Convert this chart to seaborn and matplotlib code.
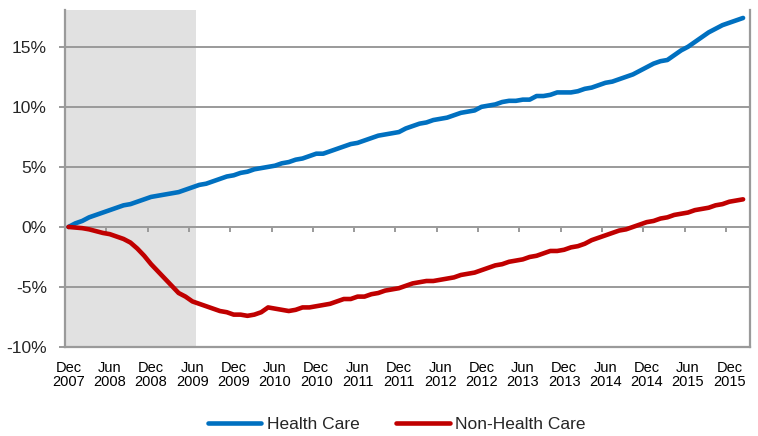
import numpy as np
import pandas as pd
import matplotlib.pyplot as plt
import seaborn as sns
from matplotlib.lines import Line2D

# =========================
# DATA (% change since Dec 2007, monthly Dec 2007 - Feb 2016)
# =========================
health_care = [
    0.0, 0.3, 0.5, 0.8, 1.0, 1.2,
    1.4, 1.6, 1.8, 1.9, 2.1, 2.3,
    2.5, 2.6, 2.7, 2.8, 2.9, 3.1,
    3.3, 3.5, 3.6, 3.8, 4.0, 4.2,
    4.3, 4.5, 4.6, 4.8, 4.9, 5.0,
    5.1, 5.3, 5.4, 5.6, 5.7, 5.9,
    6.1, 6.1, 6.3, 6.5, 6.7, 6.9,
    7.0, 7.2, 7.4, 7.6, 7.7, 7.8,
    7.9, 8.2, 8.4, 8.6, 8.7, 8.9,
    9.0, 9.1, 9.3, 9.5, 9.6, 9.7,
    10.0, 10.1, 10.2, 10.4, 10.5, 10.5,
    10.6, 10.6, 10.9, 10.9, 11.0, 11.2,
    11.2, 11.2, 11.3, 11.5, 11.6, 11.8,
    12.0, 12.1, 12.3, 12.5, 12.7, 13.0,
    13.3, 13.6, 13.8, 13.9, 14.3, 14.7,
    15.0, 15.4, 15.8, 16.2, 16.5, 16.8,
    17.0, 17.2, 17.4,
]
non_health_care = [
    0.0, -0.05, -0.1, -0.2, -0.35, -0.5,
    -0.6, -0.8, -1.0, -1.3, -1.8, -2.4,
    -3.1, -3.7, -4.3, -4.9, -5.5, -5.8,
    -6.2, -6.4, -6.6, -6.8, -7.0, -7.1,
    -7.3, -7.3, -7.4, -7.3, -7.1, -6.7,
    -6.8, -6.9, -7.0, -6.9, -6.7, -6.7,
    -6.6, -6.5, -6.4, -6.2, -6.0, -6.0,
    -5.8, -5.8, -5.6, -5.5, -5.3, -5.2,
    -5.1, -4.9, -4.7, -4.6, -4.5, -4.5,
    -4.4, -4.3, -4.2, -4.0, -3.9, -3.8,
    -3.6, -3.4, -3.2, -3.1, -2.9, -2.8,
    -2.7, -2.5, -2.4, -2.2, -2.0, -2.0,
    -1.9, -1.7, -1.6, -1.4, -1.1, -0.9,
    -0.7, -0.5, -0.3, -0.2, 0.0, 0.2,
    0.4, 0.5, 0.7, 0.8, 1.0, 1.1,
    1.2, 1.4, 1.5, 1.6, 1.8, 1.9,
    2.1, 2.2, 2.3,
]
series_names = ["Health Care", "Non-Health Care"]
series_colors = ["#0070C0", "#C00000"]
tick_labels = [
    "Dec\n2007", "Jun\n2008", "Dec\n2008", "Jun\n2009", "Dec\n2009", "Jun\n2010",
    "Dec\n2010", "Jun\n2011", "Dec\n2011", "Jun\n2012", "Dec\n2012", "Jun\n2013",
    "Dec\n2013", "Jun\n2014", "Dec\n2014", "Jun\n2015", "Dec\n2015",
]
y_ticks = [-10, -5, 0, 5, 10, 15]
recession_months = 19  # Dec 2007 .. Jun 2009 shaded

# =========================
# FRAME
# =========================
n = len(health_care)
months = np.arange(n) + 0.5
df = pd.DataFrame({
    "month": np.concatenate([months, months]),
    "value": health_care + non_health_care,
    "series": [series_names[0]] * n + [series_names[1]] * n,
})

sns.set_style("white")
plt.rcParams["font.family"] = ["Liberation Sans", "DejaVu Sans"]

fig = plt.figure(figsize=(7.58, 4.36), dpi=100)
ax = fig.add_axes([0.0858, 0.204, 0.9036, 0.773])

grid_col = "#9a9a9a"
ax.axvspan(0, recession_months, color="#e1e1e1", lw=0, zorder=0)
for v in y_ticks[1:]:
    ax.axhline(v, color=grid_col, lw=1.4, zorder=1)

sns.lineplot(data=df, x="month", y="value", hue="series", hue_order=series_names,
             palette=series_colors, linewidth=3.3, estimator=None, legend=False,
             ax=ax, zorder=3)

# small tick marks on the 0% line
tick_pos = np.arange(0, n, 6)
ax.vlines(tick_pos[1:], -0.42, 0, color=grid_col, lw=1.4, zorder=1)

ax.set_xlim(0, n + 0.5)
ax.set_ylim(-10, 18.06)
ax.set_xticks(tick_pos + 0.5)
ax.set_xticklabels(tick_labels, fontsize=10.5, linespacing=1.05)
ax.set_yticks(y_ticks)
ax.set_yticklabels([f"{v}%" for v in y_ticks], fontsize=12.5)
ax.tick_params(axis="x", length=0, pad=10, colors="#000000")
ax.tick_params(axis="y", length=4, width=1.4, color=grid_col, pad=9, left=True)
ax.set_xlabel("")
ax.set_ylabel("")

for side in ["left", "right", "bottom"]:
    ax.spines[side].set_color(grid_col)
    ax.spines[side].set_linewidth(1.6)
ax.spines["top"].set_visible(False)

handles = [Line2D([], [], color=c, lw=3.3) for c in series_colors]
fig.legend(handles, series_names, loc="center", bbox_to_anchor=(0.523, 0.027),
           ncol=2, frameon=False, fontsize=12.5, handlelength=3.1,
           handletextpad=0.3, columnspacing=2.1)

fig.savefig("out.png", dpi=100)
